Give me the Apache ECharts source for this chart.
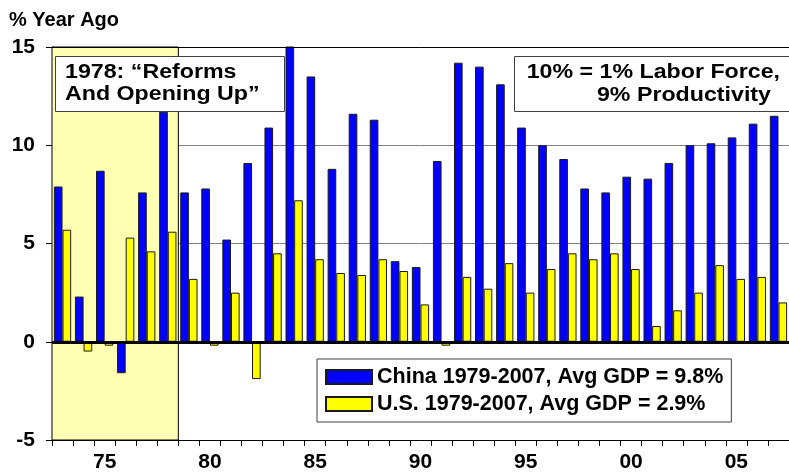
<!DOCTYPE html>
<html>
<head>
<meta charset="utf-8">
<script src="https://cdn.jsdelivr.net/npm/echarts@6/dist/echarts.min.js"></script>
<style>
  html, body { margin: 0; padding: 0; background: #fff; overflow: hidden; }
  #chart { width: 789px; height: 473px; }
</style>
</head>
<body>
<div id="chart"></div>
<script>
// categories
const years = ['1973', '1974', '1975', '1976', '1977', '1978', '1979', '1980', '1981', '1982',
  '1983', '1984', '1985', '1986', '1987', '1988', '1989', '1990', '1991', '1992',
  '1993', '1994', '1995', '1996', '1997', '1998', '1999', '2000', '2001', '2002',
  '2003', '2004', '2005', '2006', '2007'];

// real GDP, % year ago
const chinaGdp = [7.9, 2.3, 8.7, -1.6, 7.6, 11.7, 7.6, 7.8, 5.2, 9.1,
  10.9, 15.2, 13.5, 8.8, 11.6, 11.3, 4.1, 3.8, 9.2, 14.2,
  14.0, 13.1, 10.9, 10.0, 9.3, 7.8, 7.6, 8.4, 8.3, 9.1,
  10.0, 10.1, 10.4, 11.1, 11.5];
const usGdp = [5.7, -0.5, -0.2, 5.3, 4.6, 5.6, 3.2, -0.2, 2.5, -1.9,
  4.5, 7.2, 4.2, 3.5, 3.4, 4.2, 3.6, 1.9, -0.2, 3.3,
  2.7, 4.0, 2.5, 3.7, 4.5, 4.2, 4.5, 3.7, 0.8, 1.6,
  2.5, 3.9, 3.2, 3.3, 2.0];

// shaded pre-reform period (years)
const reformPeriod = [1973, 1978];

// y axis
const yMin = -5;
const yMax = 15;
const yStep = 5;

const seriesNames = ['China 1979-2007, Avg GDP = 9.8%', 'U.S. 1979-2007, Avg GDP = 2.9%'];

const FONT = '"Liberation Sans", Arial, sans-serif';

const chart = echarts.init(document.getElementById('chart'));

// text box helper (white box with dark border)
function noteText(text, x, y, align) {
  return {
    type: 'text', x: x, y: y, scaleX: 1.16, z: 101,
    style: {
      text: text, fontFamily: FONT, fontWeight: 'bold', fontSize: 20, fill: '#000',
      textAlign: align, textVerticalAlign: 'middle'
    }
  };
}

const option = {
  animation: false,
  backgroundColor: '#fff',
  grid: { left: 52, right: -8, top: 47, bottom: 31 },
  title: {
    text: '% Year Ago',
    left: 9,
    top: 10,
    padding: 0,
    textStyle: { fontFamily: FONT, fontWeight: 'bold', fontSize: 20, color: '#000' }
  },
  legend: {
    orient: 'vertical',
    left: 317,
    top: 359,
    padding: [7, 8, 7, 8],
    itemGap: 5,
    itemWidth: 46,
    itemHeight: 14,
    icon: 'rect',
    backgroundColor: '#fff',
    borderColor: '#404040',
    borderWidth: 1,
    z: 20,
    textStyle: { fontFamily: FONT, fontWeight: 'bold', fontSize: 21.5, color: '#000', lineHeight: 21 },
    data: seriesNames
  },
  xAxis: [
    {
      type: 'category',
      data: years,
      position: 'bottom',
      axisLine: { onZero: false, lineStyle: { color: '#000', width: 1 } },
      axisTick: { show: true, interval: 0, length: 6, lineStyle: { color: '#000' } },
      axisLabel: {
        interval: function (idx, val) { return Number(val) % 5 === 0; },
        formatter: function (val) { return val.slice(2); },
        fontFamily: FONT, fontWeight: 'bold', fontSize: 21, color: '#000', margin: 12
      },
      splitLine: { show: false }
    },
    {
      type: 'value',
      min: reformPeriod[0] - 0.5,
      max: years.length + Number(years[0]) - 0.5,
      show: false
    }
  ],
  yAxis: {
    type: 'value',
    min: yMin,
    max: yMax,
    interval: yStep,
    axisLine: { show: true, lineStyle: { color: '#000', width: 1 } },
    axisTick: { show: true, length: 6, lineStyle: { color: '#000' } },
    axisLabel: { fontFamily: FONT, fontWeight: 'bold', fontSize: 21, color: '#000', margin: 17 },
    splitLine: { show: true, lineStyle: { color: '#808080', width: 1 } }
  },
  series: [
    {
      type: 'scatter',
      xAxisIndex: 1,
      data: [],
      silent: true,
      z: 1,
      markArea: {
        silent: true,
        itemStyle: { color: '#FFFFB4', borderColor: '#000', borderWidth: 1 },
        data: [[{ xAxis: reformPeriod[0] - 0.5 }, { xAxis: reformPeriod[1] + 0.5 }]]
      }
    },
    {
      name: seriesNames[0],
      type: 'bar',
      data: chinaGdp,
      z: 3,
      barGap: '0%',
      barCategoryGap: '18%',
      itemStyle: { color: '#0000FF', borderColor: '#1a1a1a', borderWidth: 1 },
      markLine: {
        silent: true,
        symbol: 'none',
        label: { show: false },
        data: [
          { yAxis: 0, lineStyle: { color: '#000', width: 3, type: 'solid' } },
          { yAxis: yMax, lineStyle: { color: '#000', width: 1, type: 'solid' } }
        ]
      }
    },
    {
      name: seriesNames[1],
      type: 'bar',
      data: usGdp,
      z: 3,
      barGap: '0%',
      barCategoryGap: '18%',
      itemStyle: { color: '#FFFF00', borderColor: '#1a1a1a', borderWidth: 1 }
    }
  ],
  graphic: [
    {
      type: 'rect', z: 100,
      shape: { x: 55.5, y: 56.5, width: 229, height: 55 },
      style: { fill: '#fff', stroke: '#404040', lineWidth: 1 }
    },
    noteText('1978: \u201CReforms', 65, 72, 'left'),
    noteText('And Opening Up\u201D', 65, 94, 'left'),
    {
      type: 'rect', z: 100,
      shape: { x: 514.5, y: 56.5, width: 290, height: 55 },
      style: { fill: '#fff', stroke: '#404040', lineWidth: 1 }
    },
    noteText('10% = 1% Labor Force,', 780, 72, 'right'),
    noteText('9% Productivity', 771, 95, 'right')
  ]
};

chart.setOption(option);
</script>
</body>
</html>
